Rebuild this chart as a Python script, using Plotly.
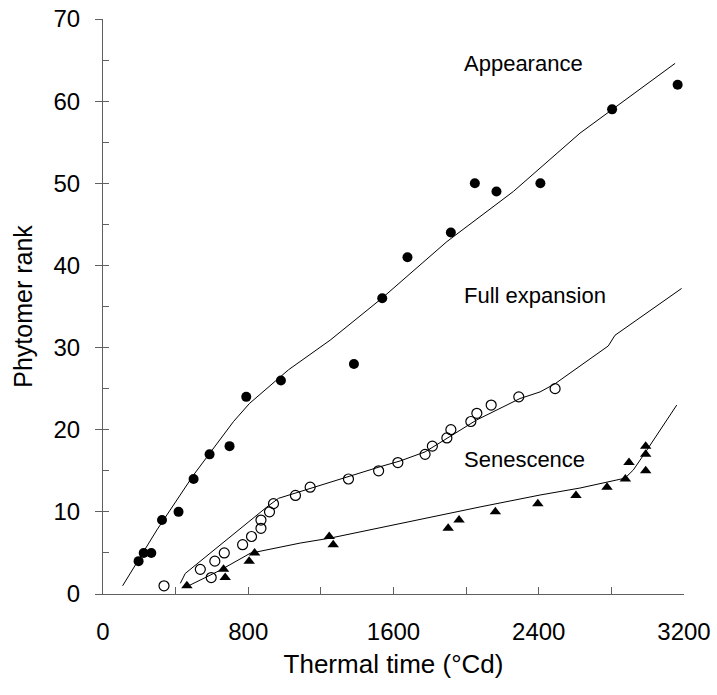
import plotly.graph_objects as go

# Observed data
app_x = [196, 224, 266, 325, 416, 499, 587, 697, 789, 980, 1382, 1538, 1677, 1916, 2048, 2167, 2409, 2804, 3165]
app_y = [4, 5, 5, 9, 10, 14, 17, 18, 24, 26, 28, 36, 41, 44, 50, 49, 50, 59, 62]

exp_x = [336, 536, 596, 616, 668, 769, 818, 870, 870, 917, 939, 1060, 1141, 1352, 1518, 1624,
         1774, 1814, 1894, 1916, 2026, 2059, 2138, 2290, 2490]
exp_y = [1, 3, 2, 4, 5, 6, 7, 8, 9, 10, 11, 12, 13, 14, 15, 16,
         17, 18, 19, 20, 21, 22, 23, 24, 25]

sen_x = [462, 664, 673, 805, 835, 1246, 1268, 1901, 1961, 2161, 2395, 2605, 2776, 2877, 2897, 2989, 2989, 2989]
sen_y = [1, 3, 2, 4, 5, 7, 6, 8, 9, 10, 11, 12, 13, 14, 16, 15, 17, 18]

# Simulated lines
app_line_x = [108, 297, 499, 719, 807, 1022, 1251, 1536, 1894, 2260, 2627, 3151]
app_line_y = [1.0, 7.8, 14.5, 21.0, 23.2, 27.3, 30.9, 36.0, 42.9, 49.0, 56.1, 64.6]

exp_line_x = [426, 453, 903, 967, 1527, 1637, 1774, 1894, 2059, 2297, 2407, 2490, 2627, 2783, 2820, 3187]
exp_line_y = [1.3, 2.5, 10.6, 11.65, 15.5, 16.2, 17.3, 18.95, 21.2, 23.8, 24.6, 25.6, 27.7, 30.2, 31.5, 37.2]

sen_line_x = [453, 646, 811, 1086, 1251, 1637, 2077, 2407, 2627, 2875, 2921, 2995, 3160]
sen_line_y = [0.8, 2.9, 4.96, 6.2, 6.8, 8.6, 10.6, 12.05, 12.9, 14.1, 15.1, 17.5, 23.0]

labels = ["Appearance", "Full expansion", "Senescence"]
label_x = [1975, 1980, 1980]
label_y = [64.6, 36.4, 16.4]

FONT = "Liberation Sans, Arial, sans-serif"
AXC = "#606060"

fig = go.Figure()
line_style = dict(color="black", width=1)
for lx, ly in [(app_line_x, app_line_y), (exp_line_x, exp_line_y), (sen_line_x, sen_line_y)]:
    fig.add_trace(go.Scatter(x=lx, y=ly, mode="lines", line=line_style, showlegend=False, hoverinfo="skip"))

fig.add_trace(go.Scatter(x=app_x, y=app_y, mode="markers",
                         marker=dict(symbol="circle", size=10, color="black"), showlegend=False))
fig.add_trace(go.Scatter(x=exp_x, y=exp_y, mode="markers",
                         marker=dict(symbol="circle-open", size=10, color="black", line=dict(width=1.2, color="black")),
                         showlegend=False))
fig.add_trace(go.Scatter(x=sen_x, y=sen_y, mode="markers",
                         marker=dict(symbol="triangle-up", size=10, color="black"), showlegend=False))

for t, x, y in zip(labels, label_x, label_y):
    fig.add_annotation(x=x, y=y, text=t, showarrow=False, xanchor="left", yanchor="middle",
                       font=dict(family=FONT, size=22, color="black"))

fig.update_layout(
    width=717, height=695,
    margin=dict(l=103, r=33, t=19, b=101),
    plot_bgcolor="white", paper_bgcolor="white",
    font=dict(family=FONT, color="black"),
    xaxis=dict(range=[0, 3200], showgrid=False, zeroline=False, showline=True, linecolor=AXC, linewidth=1,
               automargin=False, ticklabeloverflow="allow",
               tickvals=[0, 800, 1600, 2400, 3200], ticks="inside", ticklen=7, tickcolor=AXC, tickwidth=1,
               minor=dict(tickvals=[400, 1200, 2000, 2800], ticks="inside", ticklen=7, tickcolor=AXC, tickwidth=1),
               tickfont=dict(size=24, family=FONT), ticklabelstandoff=16,
               title=dict(text="Thermal time (°Cd)", font=dict(size=26, family=FONT), standoff=11)),
    yaxis=dict(range=[0, 70], showgrid=False, zeroline=False, showline=True, linecolor=AXC, linewidth=1,
               automargin=False, ticklabeloverflow="allow",
               tickvals=[0, 10, 20, 30, 40, 50, 60, 70], ticks="outside", ticklen=7, tickcolor=AXC, tickwidth=1,
               tickfont=dict(size=24, family=FONT), ticklabelstandoff=10,
               title=dict(text="Phytomer rank", font=dict(size=25, family=FONT), standoff=13)),
    yaxis2=dict(range=[0, 70], overlaying="y", side="left", showgrid=False, zeroline=False, showline=False,
                automargin=False,
                tickvals=list(range(0, 71, 5)), ticks="inside", ticklen=6, tickcolor=AXC, tickwidth=1,
                showticklabels=False),
)
fig.add_trace(go.Scatter(x=[None], y=[None], yaxis="y2", showlegend=False, hoverinfo="skip"))

fig.write_html("out.html", config={"displayModeBar": False},
               post_script="document.body.style.margin='0';document.body.style.overflow='hidden';")
